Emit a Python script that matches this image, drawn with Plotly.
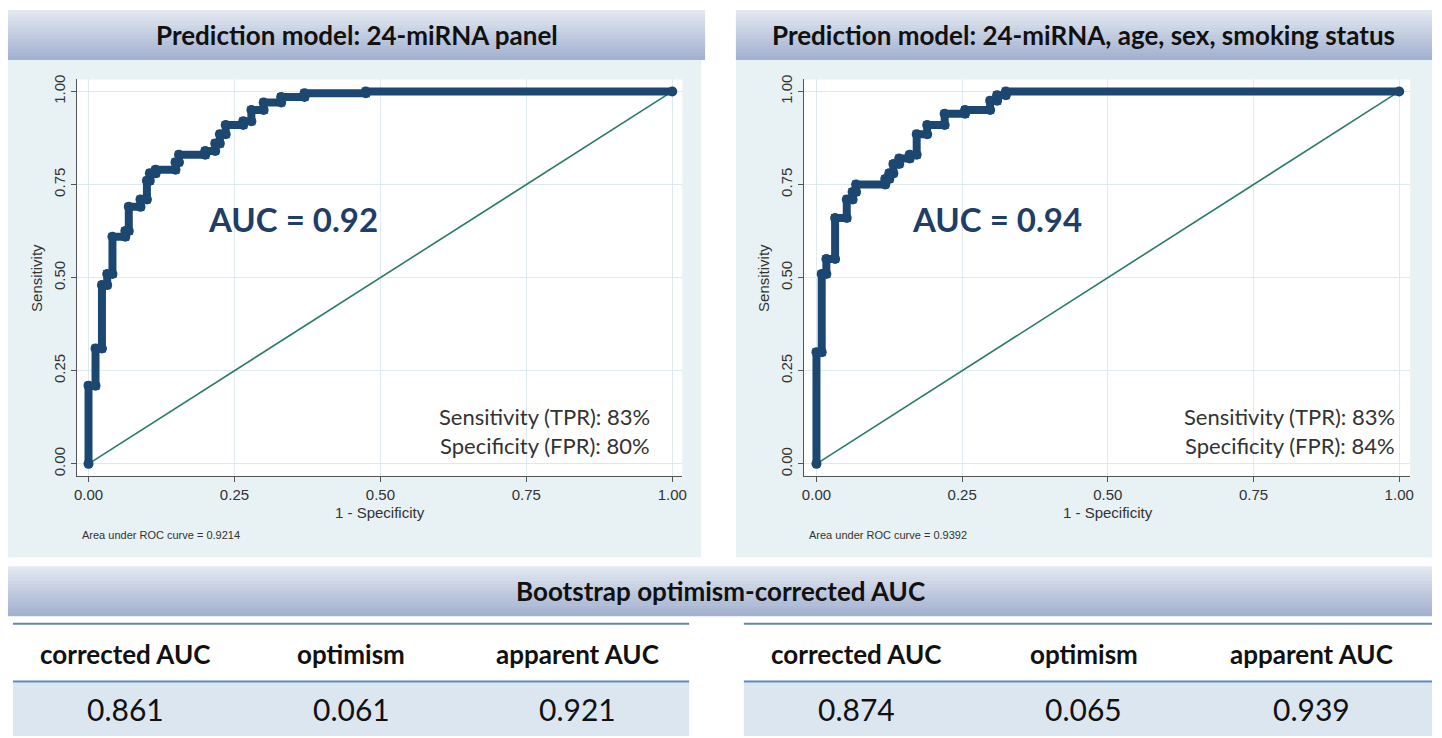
import plotly.graph_objects as go

# ---------------- data ----------------
titles = ["Prediction model: 24-miRNA panel",
          "Prediction model: 24-miRNA, age, sex, smoking status"]

roc1_fpr = [0, 0, 0.012, 0.012, 0.023, 0.023, 0.032, 0.032, 0.041, 0.041, 0.063, 0.063,
            0.069, 0.069, 0.089, 0.089, 0.10, 0.10, 0.105, 0.105, 0.115, 0.115, 0.149, 0.149,
            0.155, 0.155, 0.20, 0.20, 0.217, 0.217, 0.225, 0.225, 0.235, 0.235, 0.265, 0.265,
            0.279, 0.279, 0.30, 0.30, 0.33, 0.33, 0.37, 0.37, 0.475, 0.475, 1.0]
roc1_tpr = [0, 0.21, 0.21, 0.31, 0.31, 0.48, 0.48, 0.51, 0.51, 0.61, 0.61, 0.625,
            0.625, 0.69, 0.69, 0.71, 0.71, 0.76, 0.76, 0.78, 0.78, 0.79, 0.79, 0.81,
            0.81, 0.83, 0.83, 0.84, 0.84, 0.86, 0.86, 0.885, 0.885, 0.91, 0.91, 0.92,
            0.92, 0.95, 0.95, 0.97, 0.97, 0.985, 0.985, 0.995, 0.995, 1.0, 1.0]

roc2_fpr = [0, 0, 0.009, 0.009, 0.017, 0.017, 0.032, 0.032, 0.052, 0.052, 0.062, 0.062,
            0.068, 0.068, 0.118, 0.118, 0.125, 0.125, 0.132, 0.132, 0.142, 0.142, 0.16, 0.16,
            0.172, 0.172, 0.19, 0.19, 0.22, 0.22, 0.255, 0.255, 0.298, 0.298, 0.31, 0.31,
            0.325, 0.325, 1.0]
roc2_tpr = [0, 0.30, 0.30, 0.51, 0.51, 0.55, 0.55, 0.66, 0.66, 0.71, 0.71, 0.73,
            0.73, 0.75, 0.75, 0.765, 0.765, 0.78, 0.78, 0.805, 0.805, 0.82, 0.82, 0.83,
            0.83, 0.885, 0.885, 0.91, 0.91, 0.94, 0.94, 0.95, 0.95, 0.975, 0.975, 0.99,
            0.99, 1.0, 1.0]

ref_line = [0, 1]
tick_vals = [0, 0.25, 0.5, 0.75, 1.0]
tick_text = ["0.00", "0.25", "0.50", "0.75", "1.00"]

auc_label = ["AUC = 0.92", "AUC = 0.94"]
area_text = ["Area under ROC curve = 0.9214", "Area under ROC curve = 0.9392"]
sens_text = ["Sensitivity (TPR): 83%", "Sensitivity (TPR): 83%"]
spec_text = ["Specificity (FPR): 80%", "Specificity (FPR): 84%"]

boot_title = "Bootstrap optimism-corrected AUC"
table_cols = ["corrected AUC", "optimism", "apparent AUC"]
table_vals = [["0.861", "0.061", "0.921"],
              ["0.874", "0.065", "0.939"]]

# ---------------- layout helpers ----------------
W, H = 1442, 738
def px(x): return x / W
def py(y): return 1 - y / H

NAVY = "#1C4770"
TEAL = "#2A7A68"
PANEL = "#E8F1F3"
GRID = "#DDEAEE"
AXC = "#555555"
TXT = "#333333"
TITLE_FONT = "Lato"
STATA_FONT = "Liberation Sans Narrow, Liberation Sans, Arial"

fig = go.Figure()
shapes = []
annotations = []

def gradient_band(x0, y0, x1, y1, c_top=(226, 231, 240), c_bot=(163, 178, 208), n=14):
    h = (y1 - y0) / n
    for i in range(n):
        t = i / (n - 1)
        c = tuple(int(round(c_top[k] + (c_bot[k] - c_top[k]) * t)) for k in range(3))
        shapes.append(dict(type="rect", xref="paper", yref="paper",
                           x0=px(x0), x1=px(x1), y0=py(y0 + h * (i + 1) + 0.5), y1=py(y0 + h * i),
                           line=dict(width=0), fillcolor="rgb(%d,%d,%d)" % c, layer="below"))

# panels (pixel geometry)
panels = [
    dict(hx0=5, hx1=706, bgx0=5, bgx1=702, ax0=74, ax1=683, x0px=86, x1px=673),
    dict(hx0=737, hx1=1437, bgx0=737, bgx1=1437, ax0=805, ax1=1415, x0px=818, x1px=1404),
]
Y_TOP, Y_BOT, Y0PX, Y1PX = 75, 474, 462, 87
rocs = [(roc1_fpr, roc1_tpr), (roc2_fpr, roc2_tpr)]

for i, p in enumerate(panels):
    # panel background
    shapes.append(dict(type="rect", xref="paper", yref="paper",
                       x0=px(p["bgx0"]), x1=px(p["bgx1"]), y0=py(556), y1=py(55),
                       line=dict(width=0), fillcolor=PANEL, layer="below"))
    shapes.append(dict(type="rect", xref="paper", yref="paper",
                       x0=px(p["ax0"]), x1=px(p["ax1"]), y0=py(Y_BOT), y1=py(Y_TOP),
                       line=dict(width=0), fillcolor="white", layer="below"))
    gradient_band(p["hx0"], 5, p["hx1"], 55)
    annotations.append(dict(xref="paper", yref="paper", x=px((p["hx0"] + p["hx1"]) / 2), y=py(30),
                            text="<b>%s</b>" % titles[i], showarrow=False,
                            font=dict(family=TITLE_FONT, size=26, color="#111111"),
                            xanchor="center", yanchor="middle"))
    sx = (p["x1px"] - p["x0px"])
    sy = (Y0PX - Y1PX)
    xr = [(p["ax0"] - p["x0px"]) / sx, (p["ax1"] - p["x0px"]) / sx]
    yr = [(Y0PX - Y_BOT) / sy, (Y0PX - Y_TOP) / sy]
    xa = "xaxis" if i == 0 else "xaxis2"
    ya = "yaxis" if i == 0 else "yaxis2"
    common = dict(showline=True, linecolor=AXC, linewidth=1, ticks="outside", ticklen=5,
                  tickcolor=AXC, showgrid=True, gridcolor=GRID, gridwidth=1, zeroline=False,
                  tickvals=tick_vals, ticktext=tick_text, mirror=False,
                  tickfont=dict(family=STATA_FONT, size=15, color=TXT), fixedrange=True)
    fig.update_layout(**{
        xa: dict(domain=[px(p["ax0"]), px(p["ax1"])], range=xr, anchor="y" if i == 0 else "y2", **common),
        ya: dict(domain=[py(Y_BOT), py(Y_TOP)], range=yr, anchor="x" if i == 0 else "x2",
                 tickangle=-90, **common),
    })
    xref = "x" if i == 0 else "x2"
    yref = "y" if i == 0 else "y2"
    fig.add_trace(go.Scatter(x=ref_line, y=ref_line, mode="lines", xaxis=xref, yaxis=yref,
                             line=dict(color=TEAL, width=1.6), showlegend=False, hoverinfo="skip"))
    fpr, tpr = rocs[i]
    fig.add_trace(go.Scatter(x=fpr, y=tpr, mode="lines+markers", xaxis=xref, yaxis=yref,
                             line=dict(color=NAVY, width=8),
                             marker=dict(color=NAVY, size=10),
                             showlegend=False))
    # axis titles
    annotations.append(dict(xref="paper", yref="paper", x=px(p["ax0"] - 41), y=py(275),
                            text="Sensitivity", textangle=-90, showarrow=False,
                            font=dict(family=STATA_FONT, size=15, color=TXT),
                            xanchor="center", yanchor="middle"))
    annotations.append(dict(xref="paper", yref="paper", x=px((p["x0px"] + p["x1px"]) / 2), y=py(511),
                            text="1 - Specificity", showarrow=False,
                            font=dict(family=STATA_FONT, size=15, color=TXT),
                            xanchor="center", yanchor="middle"))
    annotations.append(dict(xref="paper", yref="paper", x=px(p["ax0"] + 3), y=py(534),
                            text=area_text[i], showarrow=False,
                            font=dict(family=STATA_FONT, size=11, color=TXT),
                            xanchor="left", yanchor="middle"))
    # AUC label
    auc_x = [292, 1000][i]
    annotations.append(dict(xref="paper", yref="paper", x=px(auc_x), y=py(215),
                            text="<b>%s</b>" % auc_label[i], showarrow=False,
                            font=dict(family=TITLE_FONT, size=33, color="#1F3D66"),
                            xanchor="center", yanchor="middle"))
    sr = [653, 1402][i]
    annotations.append(dict(xref="paper", yref="paper", x=px(sr), y=py(414),
                            text=sens_text[i], showarrow=False,
                            font=dict(family=TITLE_FONT, size=22, color=TXT),
                            xanchor="right", yanchor="middle"))
    annotations.append(dict(xref="paper", yref="paper", x=px(sr), y=py(444),
                            text=spec_text[i], showarrow=False,
                            font=dict(family=TITLE_FONT, size=22, color=TXT),
                            xanchor="right", yanchor="middle"))

# bootstrap header
gradient_band(5, 565, 1437, 615)
annotations.append(dict(xref="paper", yref="paper", x=px(722), y=py(590),
                        text="<b>%s</b>" % boot_title, showarrow=False,
                        font=dict(family=TITLE_FONT, size=26, color="#111111"),
                        xanchor="center", yanchor="middle"))

tables = [dict(x0=10, x1=690, centers=[123, 350, 578]),
          dict(x0=745, x1=1437, centers=[858, 1087, 1316])]
for t, tb in enumerate(tables):
    shapes.append(dict(type="rect", xref="paper", yref="paper",
                       x0=px(tb["x0"]), x1=px(tb["x1"]), y0=py(736), y1=py(682),
                       line=dict(width=0), fillcolor="#DCE6F1", layer="below"))
    for ly in (623, 681):
        shapes.append(dict(type="line", xref="paper", yref="paper",
                           x0=px(tb["x0"]), x1=px(tb["x1"]), y0=py(ly), y1=py(ly),
                           line=dict(color="#5B87BE", width=2)))
    for c, cx in enumerate(tb["centers"]):
        annotations.append(dict(xref="paper", yref="paper", x=px(cx), y=py(653),
                                text="<b>%s</b>" % table_cols[c], showarrow=False,
                                font=dict(family=TITLE_FONT, size=26, color="#111111"),
                                xanchor="center", yanchor="middle"))
        annotations.append(dict(xref="paper", yref="paper", x=px(cx), y=py(709),
                                text=table_vals[t][c], showarrow=False,
                                font=dict(family=TITLE_FONT, size=30, color="#111111"),
                                xanchor="center", yanchor="middle"))

fig.update_layout(width=W, height=H, margin=dict(l=0, r=0, t=0, b=0),
                  paper_bgcolor="white", plot_bgcolor="white",
                  shapes=shapes, annotations=annotations, showlegend=False)

fig.write_html("out.html", include_plotlyjs=True, config={"displayModeBar": False})
